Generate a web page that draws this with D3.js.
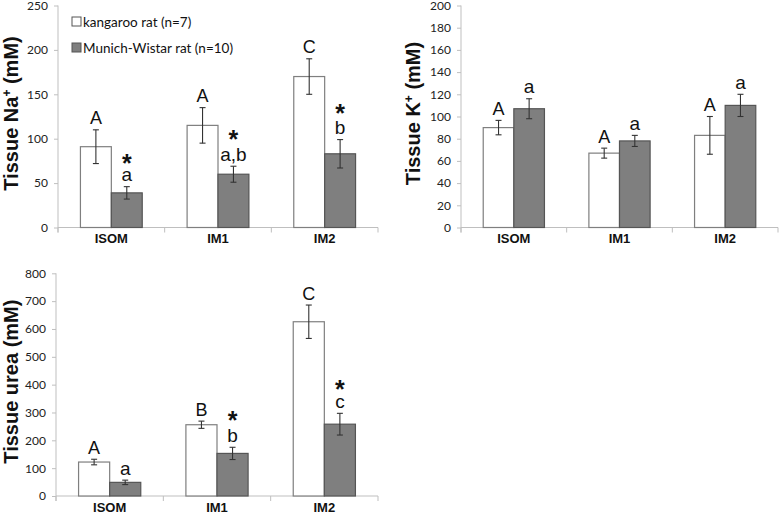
<!DOCTYPE html>
<html><head><meta charset="utf-8">
<script src="https://cdn.jsdelivr.net/npm/d3@7"></script>
<style>
body{margin:0;background:#fff;}
svg{display:block;}
</style></head>
<body>
<svg id="c" width="784" height="514"></svg>
<script>
const categories = ["ISOM", "IM1", "IM2"];
const seriesNames = ["kangaroo rat (n=7)", "Munich-Wistar rat (n=10)"];

const naKangaroo = [91, 115, 170];
const naKangarooErr = [19, 20, 20];
const naMunich = [39, 60, 83];
const naMunichErr = [7, 9, 16];
const naKangarooLabels = ["A", "A", "C"];
const naMunichLabels = ["a", "a,b", "b"];
const naMunichStars = [true, true, true];
const naTicks = [0, 50, 100, 150, 200, 250];

const kKangaroo = [90, 67, 83];
const kKangarooErr = [6.5, 4.5, 17];
const kMunich = [107, 78, 110];
const kMunichErr = [9, 5, 10];
const kKangarooLabels = ["A", "A", "A"];
const kMunichLabels = ["a", "a", "a"];
const kMunichStars = [false, false, false];
const kTicks = [0, 20, 40, 60, 80, 100, 120, 140, 160, 180, 200];

const ureaKangaroo = [122, 256, 626];
const ureaKangarooErr = [10, 13, 60];
const ureaMunich = [49, 153, 258];
const ureaMunichErr = [8, 22, 39];
const ureaKangarooLabels = ["A", "B", "C"];
const ureaMunichLabels = ["a", "b", "c"];
const ureaMunichStars = [false, true, true];
const ureaTicks = [0, 100, 200, 300, 400, 500, 600, 700, 800];

const svg = d3.select("#c");
const TICKFONT = "Lato, 'Open Sans', sans-serif";
const ARIAL = "'Liberation Sans', Arial, sans-serif";

function panel(cfg) {
  const g = svg.append("g");
  const y = d3.scaleLinear().domain([0, cfg.ticks[cfg.ticks.length - 1]]).range([cfg.y0, cfg.y1]);
  const x = d3.scaleBand().domain(categories).range([cfg.x0, cfg.x1]).paddingInner(0).paddingOuter(0);
  const xs = d3.scaleBand().domain([0, 1]).range([0, x.bandwidth()]).paddingInner(0).paddingOuter(0.726);

  // y axis
  const ya = g.append("g").attr("transform", `translate(${cfg.x0},0)`)
    .call(d3.axisLeft(y).tickValues(cfg.ticks).tickSize(4).tickPadding(6).tickFormat(d3.format("d")));
  ya.select(".domain").attr("stroke", "#bfbfbf").attr("d", `M0,${cfg.y1}V${cfg.y0 + 5}`);
  ya.selectAll(".tick line").attr("stroke", "#bfbfbf");
  ya.selectAll(".tick text").attr("fill", "#222").style("font-family", TICKFONT).style("font-size", "12px");

  // x axis
  const xa = g.append("g").attr("transform", `translate(0,${cfg.y0})`);
  xa.append("line").attr("x1", cfg.x0).attr("x2", cfg.x1).attr("stroke", "#bfbfbf");
  const bounds = categories.map(c => x(c)).concat([cfg.x1]);
  xa.selectAll("line.t").data(bounds).join("line").attr("class", "t")
    .attr("x1", d => d).attr("x2", d => d).attr("y1", 0).attr("y2", 5).attr("stroke", "#bfbfbf");
  xa.selectAll("text").data(categories).join("text")
    .attr("x", d => x(d) + x.bandwidth() / 2).attr("y", 15.5)
    .attr("text-anchor", "middle").style("font-family", ARIAL).style("font-weight", "bold")
    .style("font-size", "13px").attr("fill", "#111").text(d => d);

  const series = [
    {vals: cfg.k, errs: cfg.ke, labels: cfg.kl, stars: null, fill: "#ffffff", stroke: "#7f7f7f", fs: 18},
    {vals: cfg.m, errs: cfg.me, labels: cfg.ml, stars: cfg.ms, fill: "#7f7f7f", stroke: "#555555", fs: 19}
  ];
  series.forEach((s, si) => {
    const data = categories.map((c, i) => ({c, v: s.vals[i], e: s.errs[i], l: s.labels[i], st: s.stars ? s.stars[i] : false}));
    const bg = g.append("g");
    bg.selectAll("rect").data(data).join("rect")
      .attr("x", d => x(d.c) + xs(si)).attr("width", xs.bandwidth())
      .attr("y", d => y(d.v)).attr("height", d => y(0) - y(d.v))
      .attr("fill", s.fill).attr("stroke", s.stroke).attr("stroke-width", 1.2);
    const cx = d => x(d.c) + xs(si) + xs.bandwidth() / 2;
    const eg = bg.append("g").attr("stroke", "#333").attr("stroke-width", 1.1);
    eg.selectAll("line.v").data(data).join("line").attr("class", "v")
      .attr("x1", cx).attr("x2", cx).attr("y1", d => y(d.v + d.e)).attr("y2", d => y(d.v - d.e));
    eg.selectAll("line.t").data(data).join("line").attr("class", "t")
      .attr("x1", d => cx(d) - 3).attr("x2", d => cx(d) + 3).attr("y1", d => y(d.v + d.e)).attr("y2", d => y(d.v + d.e));
    eg.selectAll("line.b").data(data).join("line").attr("class", "b")
      .attr("x1", d => cx(d) - 3).attr("x2", d => cx(d) + 3).attr("y1", d => y(d.v - d.e)).attr("y2", d => y(d.v - d.e));
    bg.selectAll("text.lab").data(data).join("text").attr("class", "lab")
      .attr("x", cx).attr("y", d => y(d.v + d.e) - 5.5)
      .attr("text-anchor", "middle").style("font-family", ARIAL).style("font-size", s.fs + "px")
      .attr("fill", "#111").text(d => d.l);
    bg.selectAll("text.star").data(data.filter(d => d.st)).join("text").attr("class", "star")
      .attr("x", cx).attr("y", d => y(d.v + d.e) - (/[bdfhkl]/.test(d.l) ? 18 : 15))
      .attr("text-anchor", "middle").style("font-family", ARIAL).style("font-weight", "bold").style("font-size", "25px")
      .attr("fill", "#111").text("*");
  });

  // y title
  const t = g.append("text")
    .attr("transform", `translate(${cfg.tx},${(cfg.y0 + cfg.y1) / 2 - 3}) rotate(-90)`)
    .attr("text-anchor", "middle").style("font-family", ARIAL).style("font-weight", "bold")
    .style("font-size", "20px").attr("fill", "#111").attr("dy", "0.35em");
  cfg.title.forEach(p => {
    const ts = t.append("tspan").text(p.t);
    if (p.sup) ts.attr("baseline-shift", "super").style("font-size", "12px");
  });
  return {x, xs, y};
}

panel({x0: 58, x1: 378, y0: 227.5, y1: 5.5, ticks: naTicks, k: naKangaroo, ke: naKangarooErr, m: naMunich, me: naMunichErr,
  kl: naKangarooLabels, ml: naMunichLabels, ms: naMunichStars, tx: 10.5,
  title: [{t: "Tissue Na"}, {t: "+", sup: true}, {t: " (mM)"}]});
panel({x0: 461, x1: 778, y0: 227.5, y1: 5.5, ticks: kTicks, k: kKangaroo, ke: kKangarooErr, m: kMunich, me: kMunichErr,
  kl: kKangarooLabels, ml: kMunichLabels, ms: kMunichStars, tx: 413,
  title: [{t: "Tissue K"}, {t: "+", sup: true}, {t: " (mM)"}]});
panel({x0: 56, x1: 378, y0: 496, y1: 273.3, ticks: ureaTicks, k: ureaKangaroo, ke: ureaKangarooErr, m: ureaMunich, me: ureaMunichErr,
  kl: ureaKangarooLabels, ml: ureaMunichLabels, ms: ureaMunichStars, tx: 10.5,
  title: [{t: "Tissue urea (mM)"}]});

// legend
const lg = svg.append("g");
const colors = [{fill: "#ffffff", stroke: "#555"}, {fill: "#7f7f7f", stroke: "#555"}];
seriesNames.forEach((n, i) => {
  const yy = 22 + i * 26;
  lg.append("rect").attr("x", 72).attr("y", yy - 5).attr("width", 9).attr("height", 9)
    .attr("fill", colors[i].fill).attr("stroke", colors[i].stroke);
  lg.append("text").attr("x", 83).attr("y", yy).attr("dy", "0.35em")
    .style("font-family", TICKFONT).style("font-size", "13.5px").attr("fill", "#111").text(n);
});
</script>
</body></html>
